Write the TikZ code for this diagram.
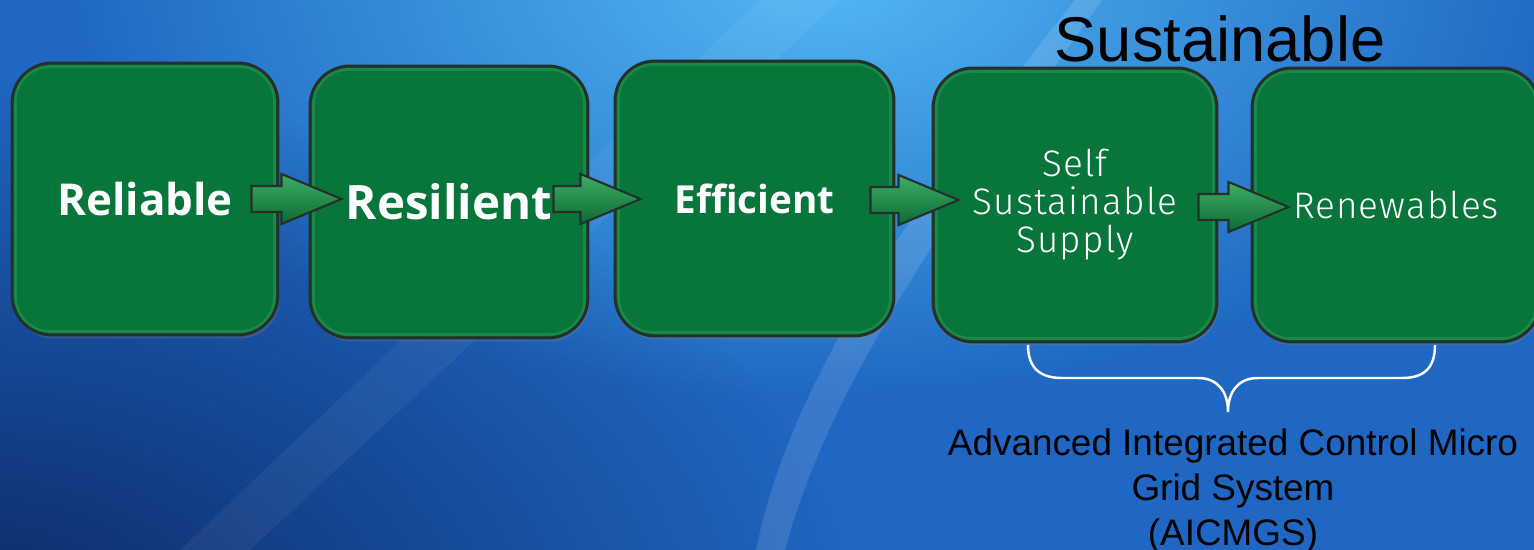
\documentclass[tikz,border=0pt]{standalone}
\usepackage{fontspec}
\setmainfont{Liberation Sans}
\newfontfamily\stagefont{Open Sans}
\newfontfamily\lightfont[LetterSpace=3]{Fira Sans Light}
\usetikzlibrary{calc,shadows,fadings}

\definecolor{boxgreen}{HTML}{08763A}
\definecolor{rimgreen}{HTML}{3DAA66}
\definecolor{edgegray}{HTML}{24302A}
\definecolor{arrowtop}{HTML}{3FAE68}
\definecolor{arrowbot}{HTML}{0B6A33}
\definecolor{navy}{HTML}{0C2763}
\definecolor{skyblue}{HTML}{52B8F4}
\definecolor{oceanblue}{HTML}{1F67C2}

\tikzfading[name=glow, inner color=transparent!0, outer color=transparent!100]

\tikzset{
  stage/.style={draw=edgegray, line width=1.7pt, fill=boxgreen,
    rounded corners=0.8cm, inner sep=0pt,
    drop shadow={opacity=0.3, shadow xshift=1pt, shadow yshift=-2pt}},
  boldword/.style={text=white, font=\stagefont\bfseries},
  thinword/.style={text=white, align=center,
    font=\lightfont\fontsize{21}{21.6}\selectfont},
  rim/.style={rimgreen, line width=1.5pt, opacity=0.35, rounded corners=0.7cm},
  flow/.style={draw=edgegray, line width=1.2pt, top color=arrowtop,
    bottom color=arrowbot, line join=miter},
  brace/.style={white, line width=1.4pt},
  caption/.style={text=black, inner sep=0pt}
}

% block arrow from #1 to the point of #2 level with #1
\newcommand\flowarrow[2]{%
  \path (#1) coordinate (s) (#2 |- #1) coordinate (t);
  \filldraw[flow] ($(s)+(0,-13)$) -- ($(t)+(-60,-13)$) -- ($(t)+(-60,-25)$)
    -- (t) -- ($(t)+(-60,25)$) -- ($(t)+(-60,13)$) -- ($(s)+(0,13)$) -- cycle;}

\begin{document}
\begin{tikzpicture}[x=0.02cm, y=-0.02cm]

% background
    \useasboundingbox (0,0) rectangle (1534,550);
    \fill[oceanblue] (0,0) rectangle (1534,550);
    \fill[skyblue, path fading=glow] (820,-20) ellipse [x radius=760, y radius=420];
    \fill[navy, path fading=glow] (-40,640) ellipse [x radius=900, y radius=560];
% light streaks
    \fill[white, opacity=0.05] (760,0) -- (840,0) -- (250,550) -- (180,550) -- cycle;
    \fill[white, opacity=0.12] (1075,0) -- (1102,0) .. controls (960,200) and (830,380)
        .. (785,550) -- (756,550) .. controls (790,380) and (915,200) .. cycle;

% stages
    \node[stage, minimum width=5.32cm, minimum height=5.44cm] (reliable) at (145,199) {};
    \node[stage, minimum width=5.56cm, minimum height=5.44cm] (resilient) at (449,202) {};
    \node[stage, minimum width=5.58cm, minimum height=5.50cm] (efficient) at (754.5,198.5) {};
    \node[stage, minimum width=5.68cm, minimum height=5.48cm] (supply) at (1075,205) {};
    \node[stage, minimum width=5.76cm, minimum height=5.48cm] (renew) at (1396,205) {};
% bevel
    \foreach \n in {reliable,resilient,efficient,supply,renew}
        \draw[rim] ([shift={(5,5)}]\n.north west) rectangle ([shift={(-5,-5)}]\n.south east);

% arrows
    \coordinate (a1) at ($(reliable.east)+(-28,0)$);
    \coordinate (b1) at ($(resilient.west)+(33,0)$);
    \flowarrow{a1}{b1}
    \coordinate (a2) at ($(resilient.east)+(-36,-3)$);
    \coordinate (b2) at ($(efficient.west)+(27,0)$);
    \flowarrow{a2}{b2}
    \coordinate (a3) at ($(efficient.east)+(-25,1.5)$);
    \coordinate (b3) at ($(supply.west)+(27,0)$);
    \flowarrow{a3}{b3}
    \coordinate (a4) at ($(supply.east)+(-20,2)$);
    \coordinate (b4) at ($(renew.west)+(38,0)$);
    \flowarrow{a4}{b4}

% words
    \node[boldword] (reliabletext) at (reliable) {\fontsize{25}{30}\selectfont Reliable};
    \node[boldword] (resilienttext) at (resilient) {\fontsize{27}{32}\selectfont Resilient};
    \node[boldword] (efficienttext) at (efficient) {\fontsize{22}{26}\selectfont Efficient};
    \node[thinword] (supplytext) at (supply) {Self\\Sustainable\\Supply};
    \node[thinword] (renewtext) at (renew) {Renewables};

% brace under the last two stages
    \coordinate (braceleft) at (1028,345);
    \coordinate (braceright) at (1435,345);
    \coordinate (bracetip) at (1228,412);
    \draw[brace] (braceleft) .. controls (1028,368) and (1040,378) .. (1062,378)
        -- (1198,378) .. controls (1218,378) and (1228,392) .. (bracetip)
        .. controls (1228,392) and (1238,378) .. (1258,378)
        -- (1402,378) .. controls (1424,378) and (1435,368) .. (braceright);

% labels
    \node[caption, anchor=base, font=\fontsize{36}{40}\selectfont] (title) at (1220,62)
        {Sustainable};
    \node[caption, anchor=north, align=center, font=\fontsize{21}{25.6}\selectfont]
        (aicmgs) at (1233,428)
        {Advanced Integrated Control Micro\\Grid System\\(AICMGS)};

\end{tikzpicture}
\end{document}
